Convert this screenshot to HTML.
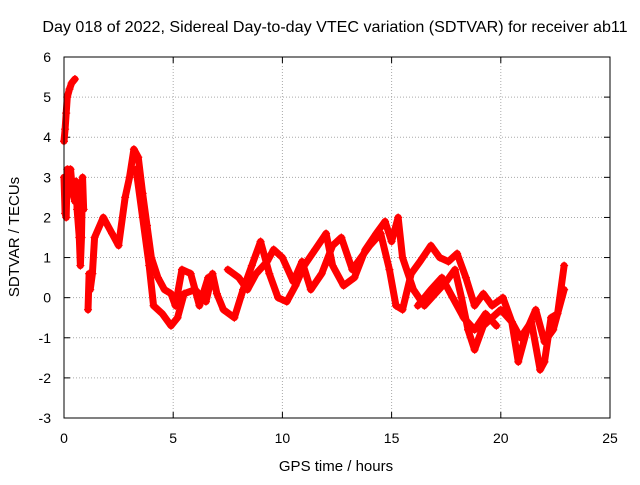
<!DOCTYPE html>
<html><head><meta charset="utf-8"><style>
body{margin:0;background:#fff;font-family:"Liberation Sans",sans-serif}
svg text{font-family:"Liberation Sans",sans-serif;font-size:14px;fill:#000}
</style></head><body>
<svg id="chart" width="640" height="480">
<text x="335" y="32" text-anchor="middle" style="font-size:16.1px">Day 018 of 2022, Sidereal Day-to-day VTEC variation (SDTVAR) for receiver ab11</text>
<text x="336" y="471" text-anchor="middle" style="font-size:15px">GPS time / hours</text>
<text transform="translate(19,237) rotate(-90)" text-anchor="middle" style="font-size:15px">SDTVAR / TECUs</text>
<g id="grid"></g><g id="ticks"></g><g id="series"></g>
<rect x="64" y="57" width="546" height="361" fill="none" stroke="#000" stroke-width="1"/>
</svg>
<script>
const xTicks=[0,5,10,15,20,25];
const yTicks=[-3,-2,-1,0,1,2,3,4,5,6];
const trackA_t=[0,0.05,0.1,0.15,0.25,0.35,0.5];
const trackA_v=[3.9,4.2,4.6,5.0,5.2,5.35,5.45];
const trackB_t=[0,0.05,0.1,0.15,0.3,0.4,0.5,0.55,0.6,0.7,0.75,0.8,0.85,0.9];
const trackB_v=[3.0,2.1,2.0,3.2,3.2,2.6,2.4,2.9,2.2,1.5,0.8,1.5,3.0,2.2];
const trackC_t=[1.1,1.15,1.2,1.3,1.4,1.8,2.2,2.5,2.8,3.0,3.2,3.4,3.6,3.8,4.0,4.3,4.6,4.9,5.1,5.4,5.8,6.2,6.6];
const trackC_v=[-0.3,0.6,0.2,0.6,1.5,2.0,1.6,1.3,2.5,3.0,3.7,3.5,2.6,1.8,1.0,0.5,0.2,0.1,-0.2,0.7,0.6,-0.2,0.5];
const trackD_t=[3.3,3.6,3.9,4.1,4.5,4.9,5.2,5.5,6.0,6.5,6.8,7.0,7.3,7.8,8.2,8.6,9.0,9.4,9.8,10.2,10.6,11.0,11.5,12.0,12.3,12.8,13.3,13.8,14.3,14.7,15.0,15.3,15.5,16.0,16.5,17.0,17.5,17.9,18.2,18.5,18.8,19.2,19.6,20.0,20.5,20.9,21.4,21.8,22.0,22.3,22.6,22.9];
const trackD_v=[3.2,2.0,0.8,-0.2,-0.4,-0.7,-0.5,0.1,0.2,-0.1,0.6,0.1,-0.3,-0.5,0.2,0.8,1.4,0.6,0.0,-0.1,0.3,0.8,1.2,1.6,0.8,0.3,0.5,1.2,1.6,1.9,1.4,2.0,1.0,0.2,-0.2,0.1,0.4,0.7,0.0,-0.8,-1.3,-0.7,-0.5,-0.3,-0.6,-1.0,-0.6,-1.8,-1.6,-0.5,-0.4,0.8];
const trackE_t=[7.5,8.0,8.4,8.8,9.3,9.6,10.0,10.5,10.9,11.3,11.8,12.3,12.7,13.2,13.6,14.0,14.5,14.9,15.2,15.5,15.9,16.3,16.8,17.2,17.6,18.0,18.4,18.8,19.2,19.6,20.1,20.5,20.8,21.2,21.6,22.0,22.4,22.9];
const trackE_v=[0.7,0.5,0.2,0.6,0.9,1.2,1.0,0.4,0.9,0.2,0.6,1.3,1.5,0.7,1.0,1.3,1.6,0.7,-0.2,-0.3,0.6,0.9,1.3,1.0,0.9,1.1,0.5,-0.2,0.1,-0.2,0.0,-0.6,-1.6,-0.8,-0.3,-1.1,-0.8,0.2];
const trackF_t=[16.2,16.8,17.3,17.8,18.3,18.8,19.3,19.8];
const trackF_v=[-0.2,0.2,0.5,0.0,-0.5,-0.8,-0.4,-0.7];
const X=t=>64+t*546/25, Y=v=>57+(6-v)*361/9;
const NS="http://www.w3.org/2000/svg";
const grid=document.getElementById('grid'),ticks=document.getElementById('ticks'),ser=document.getElementById('series');
function mk(tag,at,p){const e=document.createElementNS(NS,tag);for(const k in at)e.setAttribute(k,at[k]);p.appendChild(e);return e;}
xTicks.forEach(t=>{const x=X(t);
 if(t>0&&t<25){const g=mk('line',{x1:x,x2:x,y1:57,y2:418,stroke:'#aaa','stroke-dasharray':'1,2'},grid);
 
 }
 const l=mk('text',{x:x,y:443,'text-anchor':'middle'},ticks);l.textContent=t;
 
 
 mk('line',{x1:x,x2:x,y1:418,y2:412,stroke:'#000'},ticks);mk('line',{x1:x,x2:x,y1:57,y2:63,stroke:'#000'},ticks);});
yTicks.forEach(v=>{const y=Y(v);
 if(v>-3&&v<6){const g=mk('line',{x1:64,x2:610,y1:y,y2:y,stroke:'#aaa','stroke-dasharray':'1,2'},grid);
 
 }
 const l=mk('text',{x:51,y:y+5,'text-anchor':'end'},ticks);l.textContent=v;
 
 
 mk('line',{x1:64,x2:70,y1:y,y2:y,stroke:'#000'},ticks);mk('line',{x1:604,x2:610,y1:y,y2:y,stroke:'#000'},ticks);});
[[trackA_t,trackA_v],[trackB_t,trackB_v],[trackC_t,trackC_v],[trackD_t,trackD_v],[trackE_t,trackE_v],[trackF_t,trackF_v]].forEach(([ts,vs])=>{
 const pts=ts.map((t,i)=>X(t)+','+Y(vs[i])).join(' ');
 const pl=mk('polyline',{points:pts,fill:'none',stroke:'#f00','stroke-width':7,'stroke-linejoin':'round','stroke-linecap':'round'},ser);
 
 
 ts.forEach((t,i)=>{const x=X(t),y=Y(vs[i]);
  const m=mk('path',{d:`M${x-4},${y}H${x+4}M${x},${y-4}V${y+4}`,stroke:'#f00','stroke-width':1.2},ser);
  
  });
});
</script>
</body></html>
